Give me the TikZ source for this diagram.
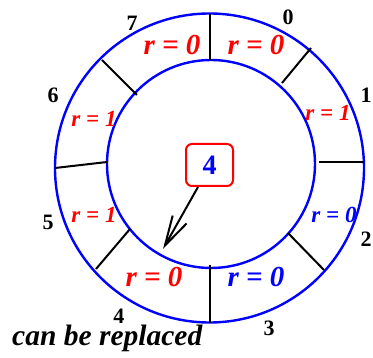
\documentclass[tikz,border=0pt]{standalone}
\usepackage{fontspec}
\setmainfont{Liberation Serif}
\usetikzlibrary{arrows.meta}
\tikzset{
  ring/.style={draw=blue, line width=2.4pt},
  tick/.style={draw=black, line width=2pt},
  bigr/.style={font=\fontsize{29}{29}\selectfont\bfseries\itshape, inner sep=0pt},
  smallr/.style={font=\fontsize{23}{23}\selectfont\bfseries\itshape, inner sep=0pt},
  num/.style={font=\fontsize{22}{22}\selectfont\bfseries, inner sep=0pt},
}
\begin{document}
\begin{tikzpicture}[x=1pt,y=-1pt]
\useasboundingbox (0,0) rectangle (373,358);
% circles
\draw[ring] (209.5,168) circle[radius=154.5];
\draw[ring] (211,164) circle[radius=104];
% dividers
\draw[tick] (210,14) -- (210,60);
\draw[tick] (311,48) -- (282,83);
\draw[tick] (319,162) -- (364,162);
\draw[tick] (288,233) -- (324,270);
\draw[tick] (210,265) -- (210,323);
\draw[tick] (130,229) -- (96,269);
\draw[tick] (55,168) -- (107,162);
\draw[tick] (102,60) -- (137,95);
% segment labels
\node[bigr, text=red] (l7) at (172,45) {r = 0};
\node[bigr, text=red] (l0) at (256,45) {r = 0};
\node[smallr, text=red] (l1) at (328,113) {r = 1};
\node[smallr, text=blue] (l2) at (334,215) {r = 0};
\node[bigr, text=blue] (l3) at (256,277) {r = 0};
\node[bigr, text=red] (l4) at (154,277) {r = 0};
\node[smallr, text=red] (l5) at (94,215) {r = 1};
\node[smallr, text=red] (l6) at (94,119) {r = 1};
% numbers
\node[num] (n0) at (288,17) {0};
\node[num] (n1) at (366,95) {1};
\node[num] (n2) at (366,239) {2};
\node[num] (n3) at (269,328) {3};
\node[num] (n4) at (119,316) {4};
\node[num] (n5) at (48,222) {5};
\node[num] (n6) at (53,95) {6};
\node[num] (n7) at (132,23) {7};
% pointer box
\node[draw=red, line width=2pt, rounded corners=6pt, minimum width=47pt, minimum height=42pt,
      text=blue, font=\fontsize{28}{28}\selectfont\bfseries, inner sep=0pt] (box) at (209.5,165) {4};
\coordinate (tip) at (163,249);
\draw[line width=2pt, -{Straight Barb[length=30pt,width=16pt,line width=2pt]}] (198,187) -- (tip);
% caption
\node[font=\fontsize{29.5}{29.5}\selectfont\bfseries\itshape, anchor=base west, inner sep=0pt] (cap) at (12,346) {can be replaced};
\end{tikzpicture}
\end{document}
